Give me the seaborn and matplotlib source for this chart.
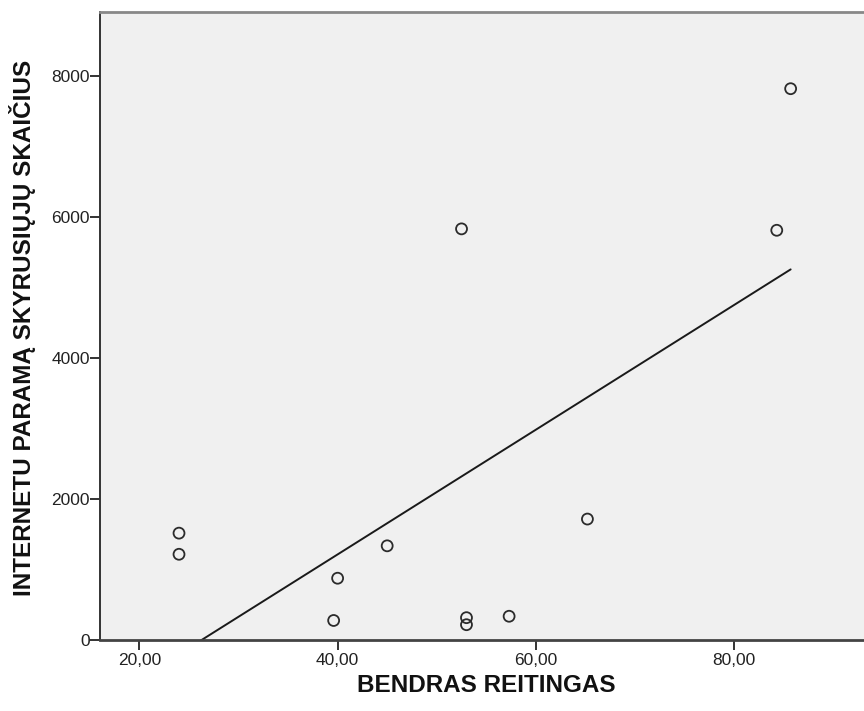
import matplotlib
matplotlib.use("Agg")
import matplotlib.pyplot as plt
from matplotlib.ticker import FuncFormatter, FixedLocator
import seaborn as sns
import pandas as pd

# Data
bendras_reitingas = [24.0, 24.0, 39.6, 40.0, 45.0, 52.5, 53.0, 53.0, 57.3, 65.2, 84.3, 85.7]
parama_skaicius = [1510, 1210, 270, 870, 1330, 5830, 310, 210, 330, 1710, 5810, 7820]
x_ticks = [20, 40, 60, 80]
y_ticks = [0, 2000, 4000, 6000, 8000]
x_label = "BENDRAS REITINGAS"
y_label = "INTERNETU PARAMĄ SKYRUSIŲJŲ SKAIČIUS"

df = pd.DataFrame({"x": bendras_reitingas, "y": parama_skaicius})

sns.set_style("white")
plt.rcParams["font.family"] = ["Liberation Sans", "DejaVu Sans"]

fig = plt.figure(figsize=(8.64, 7.11), dpi=100)
ax = fig.add_axes([100 / 864, 1 - 639.5 / 711, 1 - 100 / 864, (639.5 - 12) / 711])
ax.set_facecolor("#f0f0f0")

sns.regplot(data=df, x="x", y="y", scatter=False, ci=None, truncate=True,
            line_kws={"color": "#1a1a1a", "linewidth": 1.4}, ax=ax)
sns.scatterplot(data=df, x="x", y="y", marker="o", s=62, facecolor="none",
                edgecolor="#2b2b2b", linewidth=1.3, ax=ax, zorder=3)

ax.set_xlim(16.03, 93.1)
ax.set_ylim(0, 8909)
ax.xaxis.set_major_locator(FixedLocator(x_ticks))
ax.yaxis.set_major_locator(FixedLocator(y_ticks))
ax.xaxis.set_major_formatter(FuncFormatter(lambda v, p: f"{v:.2f}".replace(".", ",")))
ax.yaxis.set_major_formatter(FuncFormatter(lambda v, p: f"{int(v)}"))

ax.tick_params(axis="both", which="major", direction="out", length=7, width=1.4,
               color="#333333", labelsize=12.5, labelcolor="#222222",
               bottom=True, left=True, top=False, right=False)
ax.tick_params(axis="y", pad=0.3)
ax.tick_params(axis="x", pad=3)

for side in ["left", "bottom", "top"]:
    ax.spines[side].set_visible(True)
ax.spines["right"].set_visible(False)
ax.spines["left"].set_color("#333333")
ax.spines["left"].set_linewidth(1.4)
ax.spines["bottom"].set_color("#444444")
ax.spines["bottom"].set_linewidth(2.0)
ax.spines["top"].set_color("#888888")
ax.spines["top"].set_linewidth(2.0)

ax.set_xlabel(x_label, fontsize=17.5, fontweight="bold", color="#111111")
ax.set_ylabel(y_label, fontsize=17.5, fontweight="bold", color="#111111")
ax.xaxis.label.set_va("center")
ax.xaxis.label.set_ha("center")
ax.yaxis.label.set_va("center")
ax.yaxis.label.set_ha("center")
ax.xaxis.set_label_coords((486 - 100) / 764, (639.5 - 686) / 627.5)
ax.yaxis.set_label_coords((22.5 - 100) / 764, (639.5 - 327.5) / 627.5)

fig.savefig("out.png", dpi=100, facecolor="white")
